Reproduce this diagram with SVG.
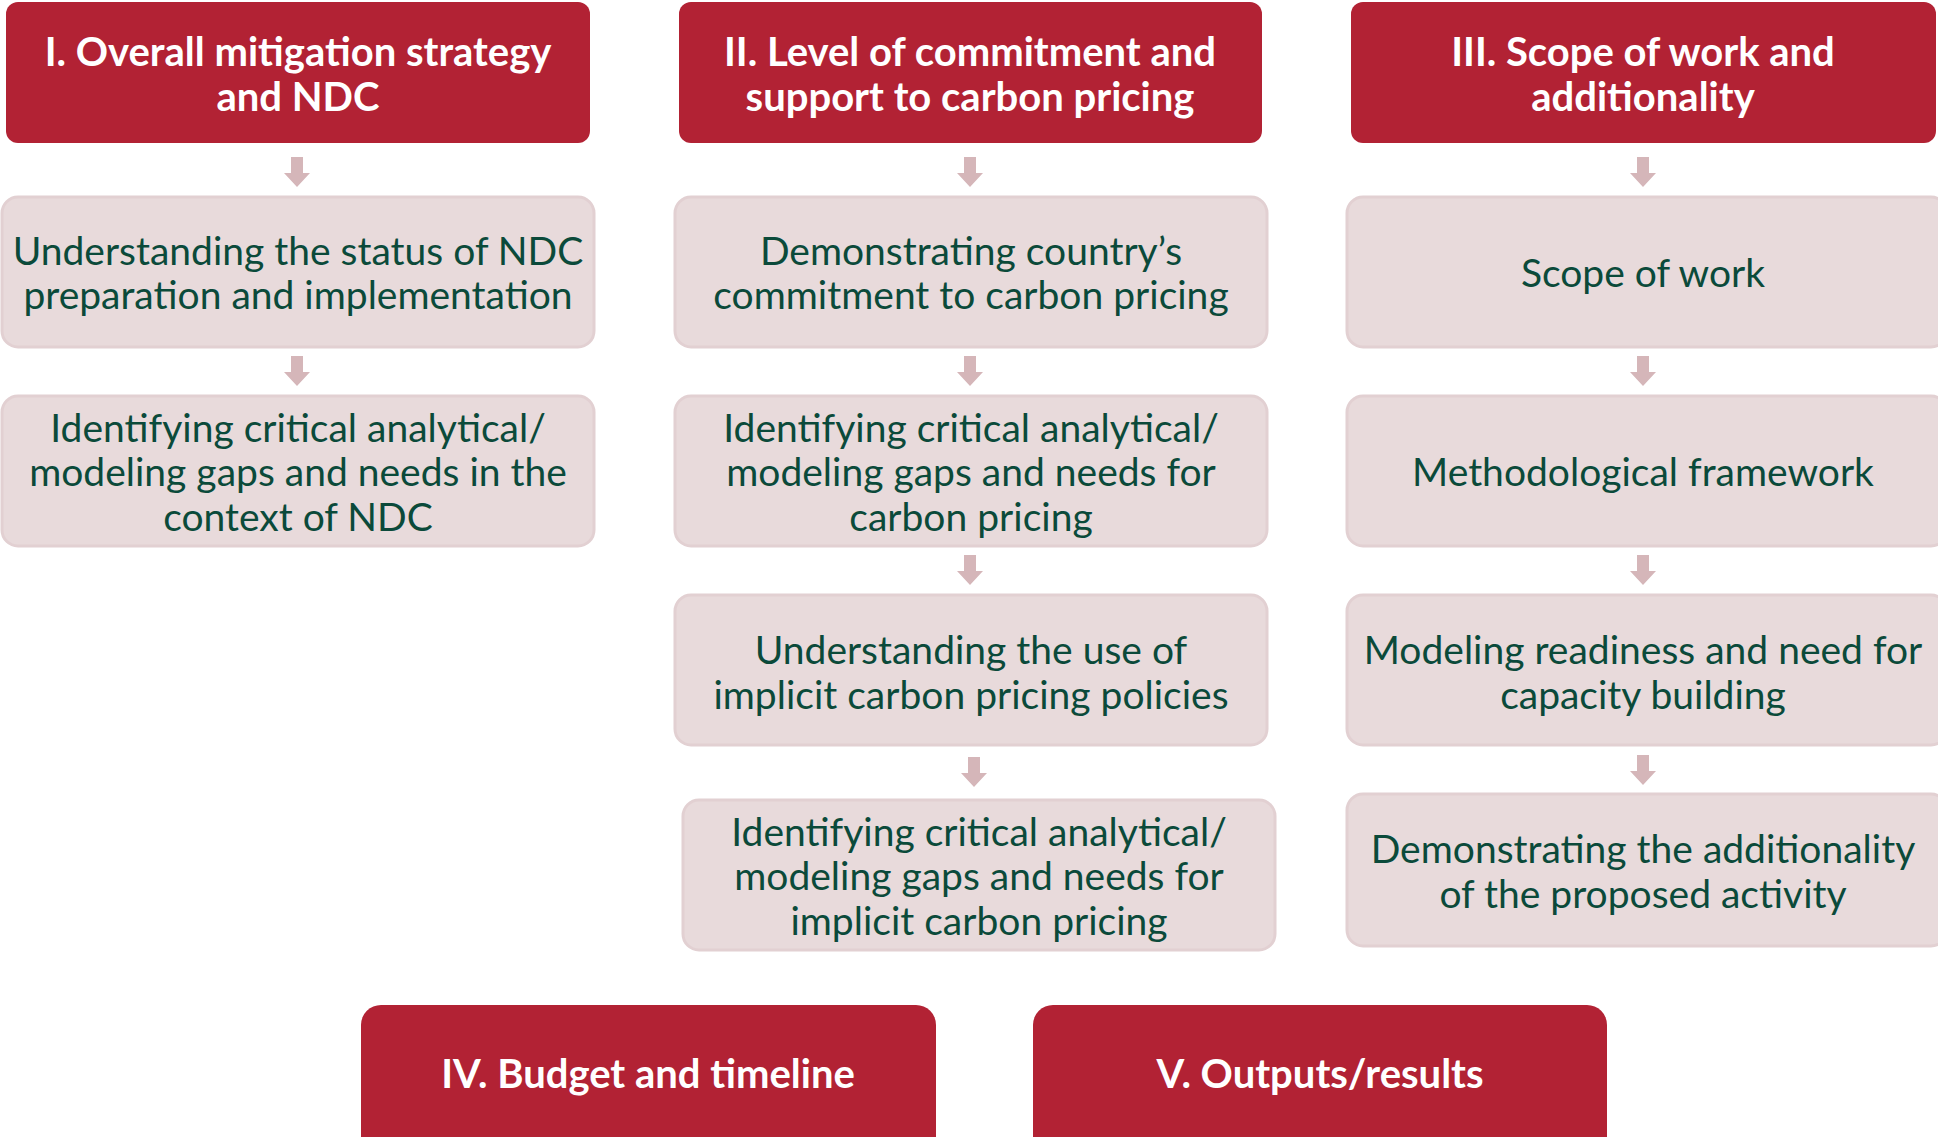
<svg xmlns="http://www.w3.org/2000/svg" width="1938" height="1137" viewBox="0 0 1938 1137">
<style>
.hdr{fill:#B22234;}
.box{fill:#E8DADB;stroke:#E2D0D2;stroke-width:3;}
.ht{font-family:Lato,"Liberation Sans",sans-serif;font-weight:bold;font-size:40px;fill:#FFFFFF;text-anchor:middle;}
.bt{font-family:Lato,"Liberation Sans",sans-serif;font-size:39px;fill:#0B4A3A;text-anchor:middle;}
.arr{fill:#D5B6B9;}
</style>
<defs>
<path id="ar" d="M-6,0 H6 V16 H13 L0,30 L-13,16 H-6 Z"/>
</defs>
<rect width="1938" height="1137" fill="#FFFFFF"/>
<g id="connectors">
<use href="#ar" class="arr" x="297" y="157"/>
<use href="#ar" class="arr" x="297" y="356"/>
<use href="#ar" class="arr" x="970" y="157"/>
<use href="#ar" class="arr" x="970" y="356"/>
<use href="#ar" class="arr" x="970" y="555"/>
<use href="#ar" class="arr" x="974" y="757"/>
<use href="#ar" class="arr" x="1643" y="157"/>
<use href="#ar" class="arr" x="1643" y="356"/>
<use href="#ar" class="arr" x="1643" y="555"/>
<use href="#ar" class="arr" x="1643" y="755"/>
</g>
<g id="h1"><rect class="hdr" x="6" y="2" width="584" height="141" rx="12"/>
<text class="ht" x="298" y="66">I. Overall mitigation strategy</text>
<text class="ht" x="298" y="111">and NDC</text></g>
<g id="h2"><rect class="hdr" x="679" y="2" width="583" height="141" rx="12"/>
<text class="ht" x="970" y="66">II. Level of commitment and</text>
<text class="ht" x="970" y="111">support to carbon pricing</text></g>
<g id="h3"><rect class="hdr" x="1351" y="2" width="585" height="141" rx="12"/>
<text class="ht" x="1643" y="66">III. Scope of work and</text>
<text class="ht" x="1643" y="111">additionality</text></g>
<g id="c1r1"><rect class="box" x="2" y="197" width="592" height="150" rx="16"/>
<text class="bt" x="298" y="265">Understanding the status of NDC</text>
<text class="bt" x="298" y="309">preparation and implementation</text></g>
<g id="c1r2"><rect class="box" x="2" y="396" width="592" height="150" rx="16"/>
<text class="bt" x="298" y="442">Identifying critical analytical/</text>
<text class="bt" x="298" y="486">modeling gaps and needs in the</text>
<text class="bt" x="298" y="531">context of NDC</text></g>
<g id="c2r1"><rect class="box" x="675" y="197" width="592" height="150" rx="16"/>
<text class="bt" x="971" y="265">Demonstrating country’s</text>
<text class="bt" x="971" y="309">commitment to carbon pricing</text></g>
<g id="c2r2"><rect class="box" x="675" y="396" width="592" height="150" rx="16"/>
<text class="bt" x="971" y="442">Identifying critical analytical/</text>
<text class="bt" x="971" y="486">modeling gaps and needs for</text>
<text class="bt" x="971" y="531">carbon pricing</text></g>
<g id="c2r3"><rect class="box" x="675" y="595" width="592" height="150" rx="16"/>
<text class="bt" x="971" y="664">Understanding the use of</text>
<text class="bt" x="971" y="709">implicit carbon pricing policies</text></g>
<g id="c2r4"><rect class="box" x="683" y="800" width="592" height="150" rx="16"/>
<text class="bt" x="979" y="846">Identifying critical analytical/</text>
<text class="bt" x="979" y="890">modeling gaps and needs for</text>
<text class="bt" x="979" y="935">implicit carbon pricing</text></g>
<g id="c3r1"><rect class="box" x="1347" y="197" width="600" height="150" rx="16"/>
<text class="bt" x="1643" y="287">Scope of work</text></g>
<g id="c3r2"><rect class="box" x="1347" y="396" width="600" height="150" rx="16"/>
<text class="bt" x="1643" y="486">Methodological framework</text></g>
<g id="c3r3"><rect class="box" x="1347" y="595" width="600" height="150" rx="16"/>
<text class="bt" x="1643" y="664">Modeling readiness and need for</text>
<text class="bt" x="1643" y="709">capacity building</text></g>
<g id="c3r4"><rect class="box" x="1347" y="794" width="600" height="152" rx="16"/>
<text class="bt" x="1643" y="863">Demonstrating the additionality</text>
<text class="bt" x="1643" y="908">of the proposed activity</text></g>
<g id="h4"><rect class="hdr" x="361" y="1005" width="575" height="170" rx="20"/>
<text class="ht" x="648" y="1088">IV. Budget and timeline</text></g>
<g id="h5"><rect class="hdr" x="1033" y="1005" width="574" height="170" rx="20"/>
<text class="ht" x="1320" y="1088">V. Outputs/results</text></g>
</svg>
